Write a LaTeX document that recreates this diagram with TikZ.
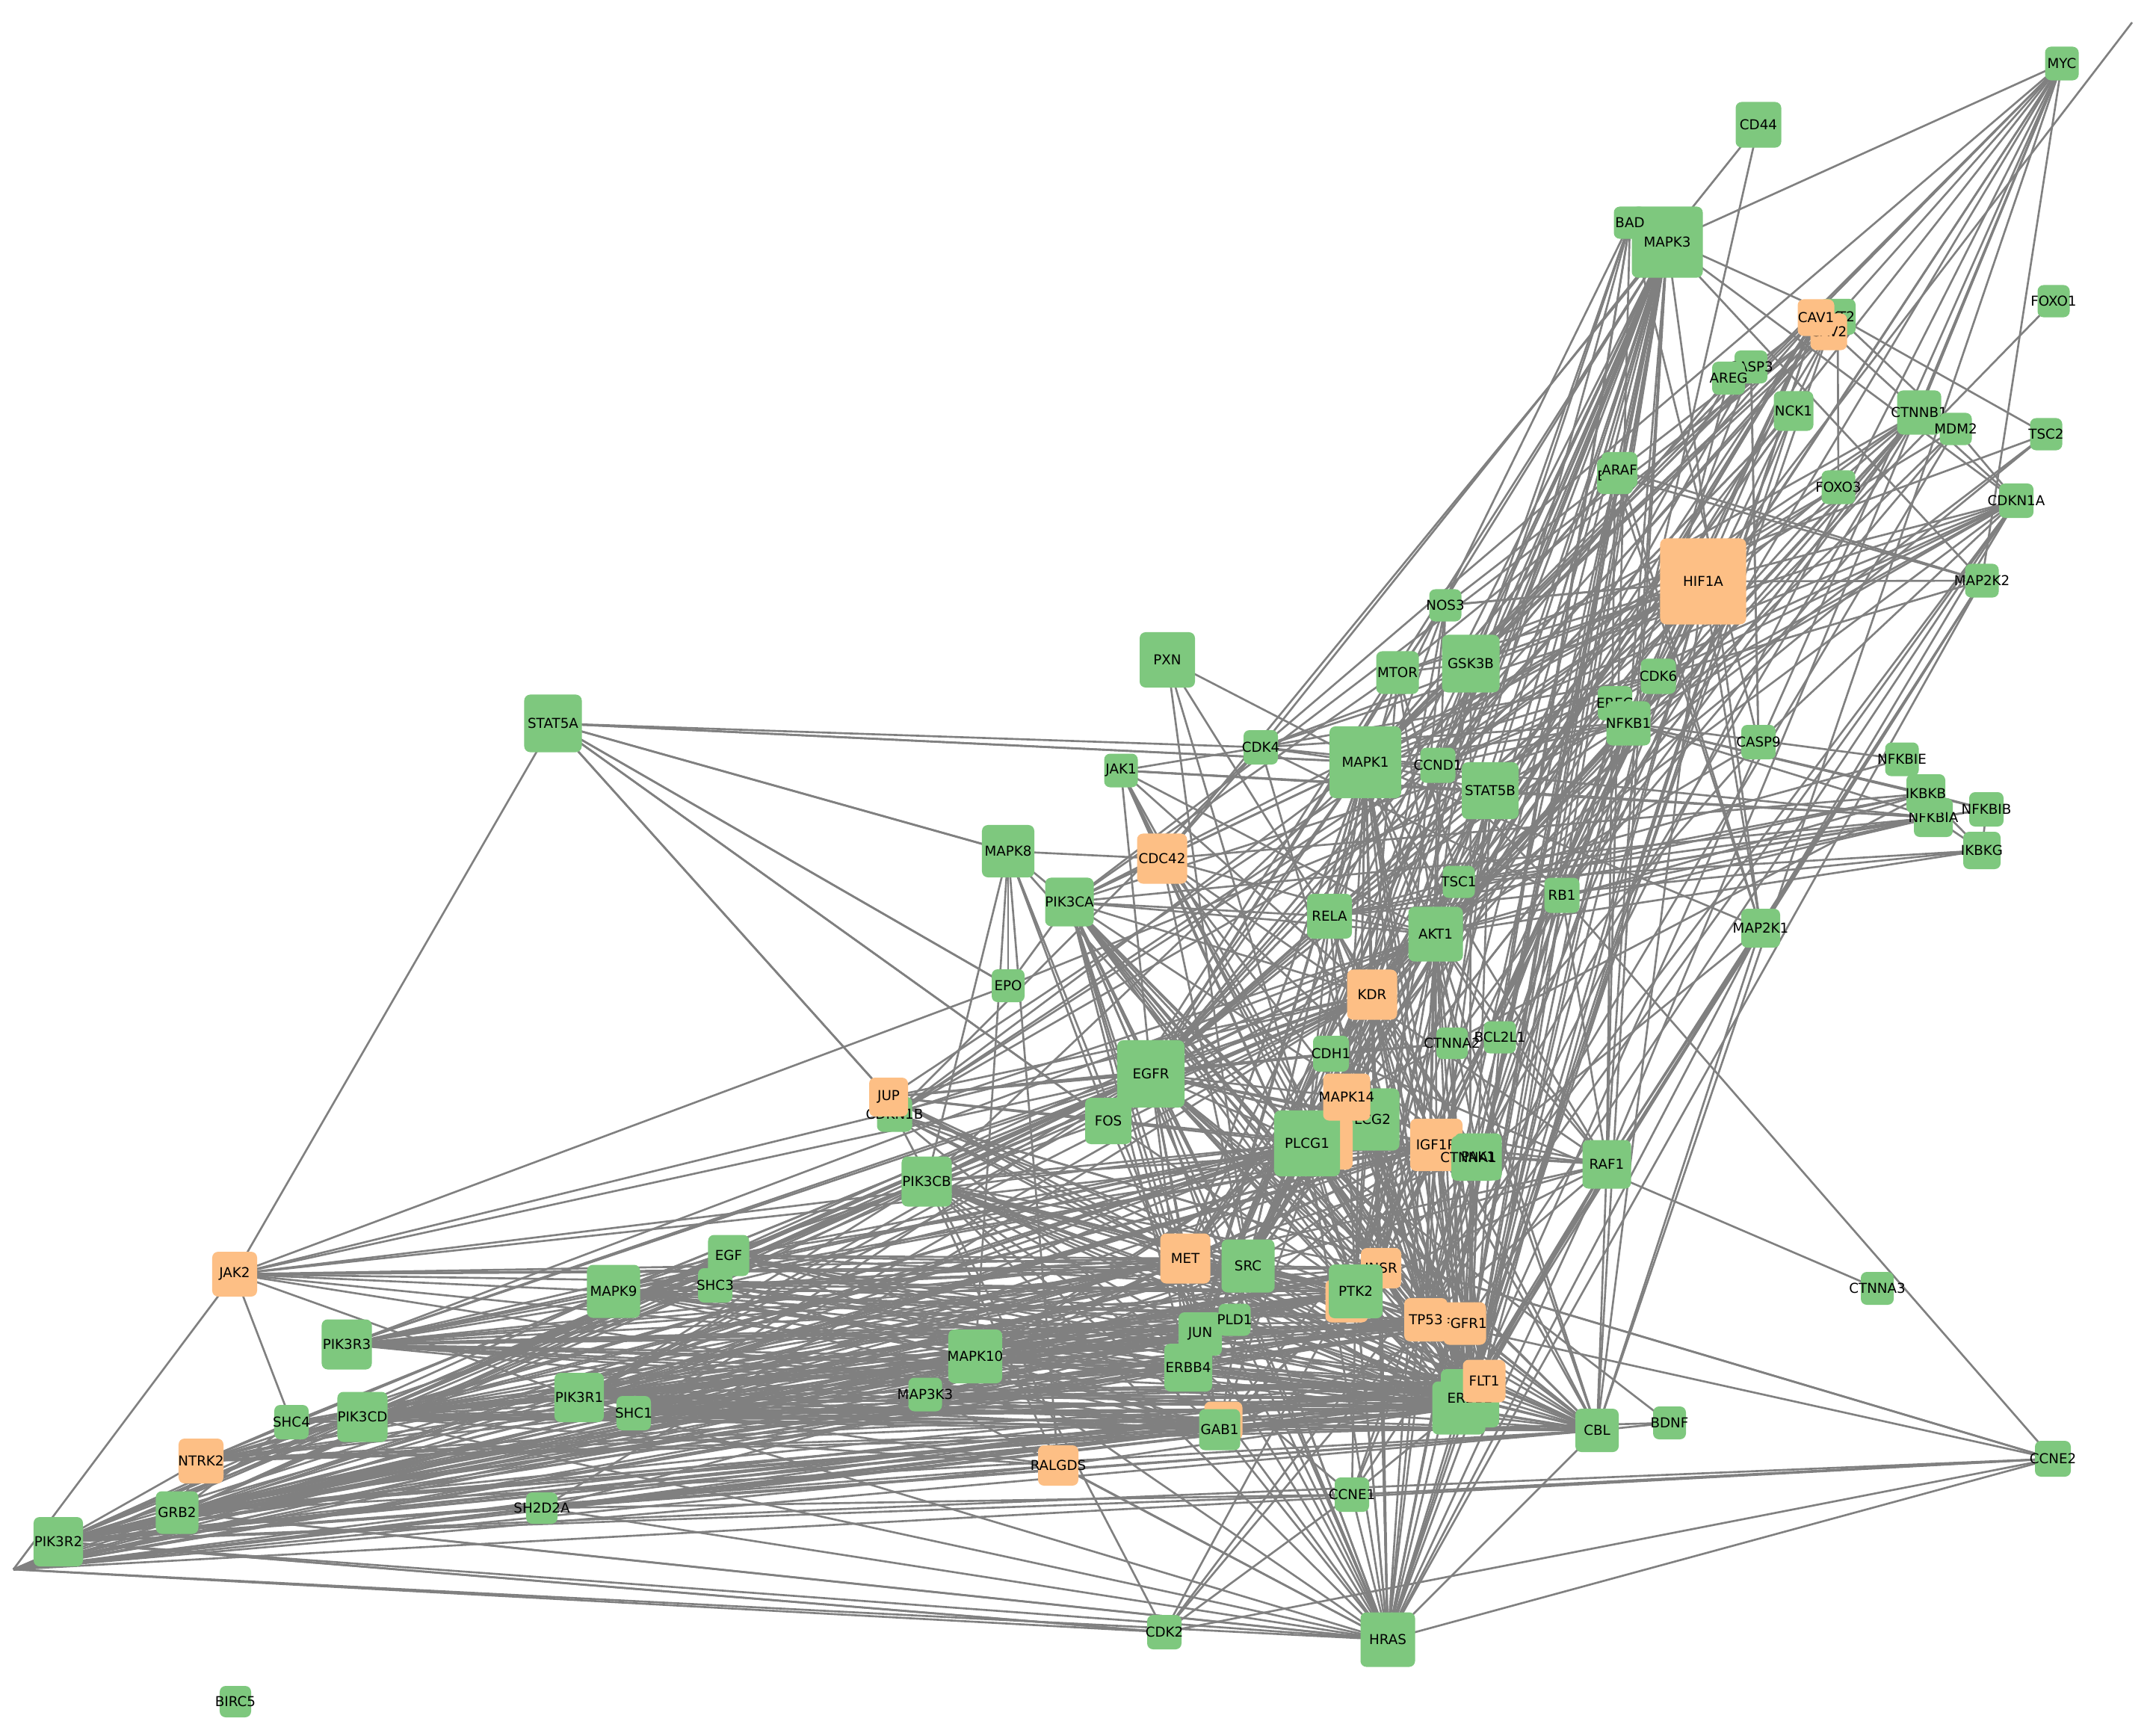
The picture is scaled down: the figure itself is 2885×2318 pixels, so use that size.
\documentclass[tikz,border=0pt]{standalone}
\usepackage{fontspec}
\setmainfont{DejaVu Sans}
\definecolor{gr}{RGB}{126,200,126}
\definecolor{orx}{RGB}{253,191,133}
\definecolor{edg}{RGB}{128,128,128}
\pgfdeclarelayer{bg}
\pgfsetlayers{bg,main}
\tikzset{
  nbox/.style={rectangle, rounded corners=0.08cm, inner sep=0pt, draw=none},
  lab/.style={inner sep=0pt, font=\fontsize{5.2}{6}\selectfont, text=black},
  lnk/.style={draw=edg, line width=0.75pt}
}
\newcommand\nd[6]{%
  \node[nbox,fill=#5,minimum size=#4*0.28453pt] (#1) at (#2,#3) {};
  \node[lab] (#1-t) at (#2,#3) {#6};}
\newcommand\Lk[2]{\foreach \b in {#2}{\draw[lnk] (#1.center) -- (\b.center);}}
\begin{document}
\begin{tikzpicture}[x=0.01cm,y=-0.01cm]
\useasboundingbox (0,0) rectangle (2885,2318);
\coordinate (offL) at (18,2100);
\coordinate (offTR) at (2853,30);
% nodes
\nd{MYC}{2759}{85}{45}{gr}{MYC}
\nd{CD44}{2353}{167}{61}{gr}{CD44}
\nd{MAPK3}{2231}{324}{95}{gr}{MAPK3}
\nd{BAD}{2181}{298}{43}{gr}{BAD}
\nd{AKT2}{2459}{424}{48}{gr}{AKT2}
\nd{CAV2}{2447}{444}{49}{orx}{CAV2}
\nd{CAV1}{2430}{425}{49}{orx}{CAV1}
\nd{CASP3}{2343}{491}{44}{gr}{CASP3}
\nd{AREG}{2313}{506}{44}{gr}{AREG}
\nd{NCK1}{2400}{550}{53}{gr}{NCK1}
\nd{CTNNB1}{2568}{552}{59}{gr}{CTNNB1}
\nd{MDM2}{2617}{574}{43}{gr}{MDM2}
\nd{FOXO1}{2748}{403}{43}{gr}{FOXO1}
\nd{TSC2}{2738}{581}{43}{gr}{TSC2}
\nd{BRAF}{2161}{637}{48}{gr}{BRAF}
\nd{ARAF}{2167}{629}{48}{gr}{ARAF}
\nd{FOXO3}{2460}{652}{45}{gr}{FOXO3}
\nd{CDKN1A}{2698}{670}{46}{gr}{CDKN1A}
\nd{HIF1A}{2279}{778}{115}{orx}{HIF1A}
\nd{MAP2K2}{2652}{777}{45}{gr}{MAP2K2}
\nd{CDK6}{2219}{905}{47}{gr}{CDK6}
\nd{CASP9}{2353}{993}{46}{gr}{CASP9}
\nd{NFKBIE}{2545}{1016}{45}{gr}{NFKBIE}
\nd{NFKBIA}{2587}{1094}{52}{gr}{NFKBIA}
\nd{IKBKB}{2577}{1062}{52}{gr}{IKBKB}
\nd{NFKBIB}{2658}{1083}{46}{gr}{NFKBIB}
\nd{IKBKG}{2652}{1138}{50}{gr}{IKBKG}
\nd{MAP2K1}{2356}{1242}{52}{gr}{MAP2K1}
\nd{NOS3}{1934}{810}{43}{gr}{NOS3}
\nd{GSK3B}{1968}{888}{77}{gr}{GSK3B}
\nd{MTOR}{1870}{900}{57}{gr}{MTOR}
\nd{EREG}{2161}{941}{46}{gr}{EREG}
\nd{NFKB1}{2179}{968}{59}{gr}{NFKB1}
\nd{MAPK1}{1827}{1020}{96}{gr}{MAPK1}
\nd{CCND1}{1924}{1024}{47}{gr}{CCND1}
\nd{STAT5B}{1994}{1058}{76}{gr}{STAT5B}
\nd{CDK4}{1687}{1000}{46}{gr}{CDK4}
\nd{TSC1}{1952}{1180}{43}{gr}{TSC1}
\nd{RB1}{2090}{1198}{47}{gr}{RB1}
\nd{RELA}{1779}{1226}{60}{gr}{RELA}
\nd{AKT1}{1921}{1250}{73}{gr}{AKT1}
\nd{JAK1}{1500}{1031}{45}{gr}{JAK1}
\nd{CDC42}{1555}{1149}{67}{orx}{CDC42}
\nd{PIK3CA}{1431}{1207}{65}{gr}{PIK3CA}
\nd{KDR}{1836}{1331}{67}{orx}{KDR}
\nd{CDH1}{1781}{1410}{48}{gr}{CDH1}
\nd{CTNNA2}{1943}{1396}{42}{gr}{CTNNA2}
\nd{BCL2L1}{2007}{1388}{43}{gr}{BCL2L1}
\nd{EGFR}{1540}{1437}{90}{gr}{EGFR}
\nd{PLCG2}{1831}{1498}{83}{gr}{PLCG2}
\nd{OR1}{1775}{1530}{70}{orx}{}
\nd{PLCG1}{1749}{1530}{88}{gr}{PLCG1}
\nd{MAPK14}{1802}{1468}{63}{orx}{MAPK14}
\nd{IGF1R}{1922}{1532}{70}{orx}{IGF1R}
\nd{CTNNA1}{1972}{1550}{60}{gr}{}
\nd{PAK1}{1978}{1548}{63}{gr}{PAK1}
\node[lab] (CTNNA1-l) at (1965,1549) {CTNNA1};
\nd{RAF1}{2150}{1558}{65}{gr}{RAF1}
\nd{SRC}{1670}{1694}{71}{gr}{SRC}
\nd{INSR}{1848}{1697}{54}{orx}{INSR}
\nd{OR2}{1802}{1741}{57}{orx}{}
\nd{PTK2}{1814}{1728}{72}{gr}{PTK2}
\nd{FGFR1}{1960}{1771}{57}{orx}{FGFR1}
\nd{TP53}{1908}{1766}{58}{orx}{TP53}
\nd{MET}{1586}{1684}{67}{orx}{MET}
\nd{JUN}{1606}{1785}{58}{gr}{JUN}
\nd{PLD1}{1652}{1766}{43}{gr}{PLD1}
\nd{ERBB4}{1590}{1830}{64}{gr}{ERBB4}
\nd{OR3}{1637}{1901}{51}{orx}{}
\nd{GAB1}{1632}{1913}{55}{gr}{GAB1}
\nd{KRAS}{1952}{1884}{71}{gr}{KRAS}
\nd{ERBB2}{1967}{1871}{78}{gr}{ERBB2}
\nd{FLT1}{1986}{1848}{57}{orx}{FLT1}
\nd{CBL}{2137}{1914}{58}{gr}{CBL}
\nd{BDNF}{2234}{1904}{44}{gr}{BDNF}
\nd{CCNE1}{1809}{2000}{46}{gr}{CCNE1}
\nd{CDK2}{1558}{2184}{46}{gr}{CDK2}
\nd{HRAS}{1857}{2194}{73}{gr}{HRAS}
\nd{RALGDS}{1416}{1961}{54}{orx}{RALGDS}
\nd{CDKN1B}{1197}{1491}{47}{gr}{CDKN1B}
\nd{JUP}{1189}{1468}{52}{orx}{JUP}
\nd{FOS}{1483}{1500}{62}{gr}{FOS}
\nd{PIK3CB}{1240}{1581}{67}{gr}{PIK3CB}
\nd{MAPK10}{1305}{1815}{72}{gr}{MAPK10}
\nd{MAP3K3}{1238}{1866}{45}{gr}{MAP3K3}
\nd{JAK2}{314}{1705}{60}{orx}{JAK2}
\nd{MAPK9}{821}{1728}{71}{gr}{MAPK9}
\nd{PIK3R3}{464}{1799}{67}{gr}{PIK3R3}
\nd{SHC4}{390}{1903}{46}{gr}{SHC4}
\nd{PIK3CD}{485}{1896}{67}{gr}{PIK3CD}
\nd{PIK3R1}{775}{1870}{66}{gr}{PIK3R1}
\nd{SHC1}{848}{1891}{46}{gr}{SHC1}
\nd{NTRK2}{269}{1955}{60}{orx}{NTRK2}
\nd{GRB2}{237}{2024}{57}{gr}{GRB2}
\nd{PIK3R2}{78}{2063}{66}{gr}{PIK3R2}
\nd{SH2D2A}{725}{2018}{42}{gr}{SH2D2A}
\nd{BIRC5}{315}{2277}{42}{gr}{BIRC5}
\nd{STAT5A}{740}{968}{77}{gr}{STAT5A}
\nd{PXN}{1562}{883}{74}{gr}{PXN}
\nd{MAPK8}{1349}{1139}{70}{gr}{MAPK8}
\nd{EPO}{1349}{1319}{44}{gr}{EPO}
\nd{EGF}{975}{1680}{55}{gr}{EGF}
\nd{SHC3}{957}{1720}{46}{gr}{SHC3}
\nd{CTNNA3}{2512}{1724}{44}{gr}{CTNNA3}
\nd{CCNE2}{2747}{1952}{48}{gr}{CCNE2}
% edges
\begin{pgfonlayer}{bg}
\fill[white] (0,0) rectangle (2885,2318);
\Lk{PIK3R2}{GRB2,NTRK2,EGFR,ERBB2,KRAS,ERBB4,MET,SRC,PTK2,IGF1R,INSR,PLCG1,GAB1,OR3,JUN,TP53,FGFR1,FLT1,CBL,RALGDS,CDK2,HRAS,KDR,PIK3CB,MAPK10,CCNE1,CCNE2,EGF,SHC3,MAPK9,PLD1,SHC1}
\Lk{offL}{JAK2,EGFR,ERBB2,KRAS,ERBB4,MET,SRC,PTK2,IGF1R,INSR,PLCG1,GAB1,JUN,TP53,FLT1,CBL,RALGDS,CDK2,HRAS,CCNE2,PIK3CB,MAPK10,SH2D2A,FGFR1}
\Lk{GRB2}{NTRK2,EGFR,ERBB2,KRAS,ERBB4,MET,SRC,PTK2,INSR,IGF1R,PLCG1,GAB1,OR3,SHC1,SHC3,SHC4,HRAS,CBL,FLT1,KDR,FGFR1,PIK3CB,PLD1,MAPK10,TP53}
\Lk{NTRK2}{SHC4,PIK3CD,SHC1,SHC3,BDNF,ERBB2,KRAS,PLCG1,PTK2,SRC,GAB1,MET,MAPK9,JUN,FLT1,IGF1R}
\Lk{PIK3CD}{EGFR,ERBB2,KRAS,ERBB4,MET,SRC,PTK2,INSR,IGF1R,PLCG1,GAB1,OR3,KDR,FLT1,FGFR1,HRAS,AKT1,JUN,TP53,CBL,PLD1,RALGDS,MAPK10,EGF}
\Lk{PIK3R3}{EGFR,ERBB2,KRAS,ERBB4,MET,SRC,PTK2,INSR,IGF1R,PLCG1,GAB1,KDR,FLT1,FGFR1,AKT1,JUN,TP53,MAPK9,PLD1,MAPK10,CBL,EGF,SHC3}
\Lk{PIK3R1}{EGFR,ERBB2,KRAS,ERBB4,MET,SRC,PTK2,INSR,IGF1R,PLCG1,GAB1,OR3,KDR,FLT1,FGFR1,HRAS,AKT1,JUN,TP53,CBL,PLD1,RALGDS,MAPK10,PIK3CB}
\Lk{SHC1}{EGFR,ERBB2,KRAS,ERBB4,MET,SRC,PTK2,INSR,IGF1R,PLCG1,GAB1,KDR,FLT1,FGFR1,JUN,CBL,MAP3K3,MAPK10}
\Lk{SHC4}{JAK2,PIK3CD,ERBB2,KRAS,EGFR,PTK2,MET}
\Lk{MAPK9}{JUN,EGFR,ERBB2,KRAS,MET,SRC,PTK2,PLCG1,GAB1,IGF1R,TP53,FOS,ERBB4,MAPK10,PLD1,FGFR1,FLT1}
\Lk{EGF}{EGFR,ERBB2,KRAS,ERBB4,PLCG1,SRC,PTK2,GAB1,MET,JUN,IGF1R}
\Lk{SHC3}{EGFR,ERBB2,KRAS,PTK2,SRC,MET,PLCG1,GAB1,FLT1,TP53}
\Lk{MAPK10}{JUN,ERBB2,KRAS,MET,SRC,PTK2,PLCG1,GAB1,TP53,IGF1R,INSR,FGFR1,FLT1,HRAS,ERBB4,PLD1,CBL}
\Lk{MAP3K3}{ERBB2,KRAS,PLCG1,SRC,PTK2,GAB1,MET,JUN,TP53,FLT1,HRAS}
\Lk{SH2D2A}{KDR,ERBB2,KRAS,PTK2,GAB1,FLT1,HRAS,CBL,CCNE1}
\Lk{PIK3CB}{AKT1,EGFR,ERBB2,KRAS,ERBB4,MET,SRC,PTK2,INSR,IGF1R,PLCG1,GAB1,KDR,FLT1,FGFR1,HRAS,JUN,TP53,CBL,RALGDS,PLD1}
\Lk{JAK2}{STAT5A,EPO,EGFR,PTK2,SRC,MET,IGF1R,INSR,PIK3R1,ERBB2,PLCG1,GAB1,MAPK9,KDR}
\Lk{JUP}{CDH1,CTNNA1,CTNNA2,CTNNB1,EGFR,STAT5A,PLCG1,MET,KDR,SRC,ERBB2,FOS}
\Lk{CDKN1B}{CDK2,CDK4,CDK6,CCND1,CCNE1,CCNE2,AKT1,FOXO3,PTK2,ERBB2,KRAS,MAPK1}
\Lk{FOS}{JUN,MAPK1,MAPK3,MAPK8,STAT5A,EGFR,KDR,PTK2}
\Lk{EGFR}{ERBB2,ERBB4,KRAS,SRC,PTK2,PLCG1,PLCG2,GAB1,CBL,MET,IGF1R,MAPK14,STAT5B,PAK1,CDH1,HRAS,PIK3CA,AREG,EREG,NCK1,JAK1,CAV1,AKT1,MAPK1,MAPK3,CTNNB1,RAF1,INSR,KDR,TP53,JUN,PLD1,FLT1}
\Lk{MET}{SRC,PTK2,GAB1,PLCG1,ERBB2,KRAS,HRAS,CBL,AKT1,MAPK1,STAT5B,PAK1,RAF1,IGF1R}
\Lk{SRC}{PTK2,ERBB2,KRAS,PXN,STAT5B,CAV1,INSR,IGF1R,KDR,FLT1,PLCG1,AKT1,RAF1,CBL,CTNNB1,CDH1,MAPK1,HRAS,TP53}
\Lk{PTK2}{PXN,ERBB2,KRAS,PLCG1,IGF1R,INSR,KDR,FLT1,AKT1,PAK1,RAF1,TP53,CDC42,MAPK1,MAPK3,HRAS,CBL,CCNE1}
\Lk{PLCG1}{ERBB2,KRAS,KDR,FLT1,IGF1R,INSR,FGFR1,RAF1,AKT1,CBL,HRAS,PLCG2,TP53,BDNF}
\Lk{MYC}{MAPK3,GSK3B,MAPK1,CCND1,STAT5B,NFKB1,RB1,TP53,ERBB2,CBL,MAP2K2,CTNNB1,CDK4,RAF1,CDK6}
\Lk{CD44}{CDK4,ERBB2}
\Lk{MAPK3}{ARAF,BRAF,MAP2K1,MAP2K2,RAF1,KRAS,ERBB2,PLCG1,IGF1R,JUN,STAT5B,RELA,AKT1,KDR,TP53,PTK2,INSR,HRAS,CDKN1A,BAD,NFKB1,CCND1,GSK3B,MAPK14,FLT1,CBL,SRC,CDC42,ERBB4,MET}
\Lk{BAD}{AKT1,BCL2L1,MAPK1,RAF1,PAK1,AKT2,CASP9,KDR,PLCG1}
\Lk{CAV1}{SRC,NOS3,KDR,INSR,MAPK1,ERBB2,IGF1R,AKT1,PTK2,CTNNB1,HRAS,MAPK14}
\Lk{CAV2}{INSR,EGFR,SRC,KRAS,MAPK1,CAV1}
\Lk{AKT2}{GSK3B,FOXO3,MDM2,TSC2,PIK3CA,PIK3CB,MTOR}
\Lk{AREG}{EGFR,ERBB4,ERBB2}
\Lk{CASP3}{CASP9,BCL2L1,MAPK1,AKT1}
\Lk{NCK1}{EGFR,PAK1,KDR,ERBB2,MET}
\Lk{CTNNB1}{CDKN1A,CDH1,CTNNA1,CTNNA2,GSK3B,CCND1,AKT1,MET,SRC}
\Lk{MDM2}{TP53,AKT1,CDKN1A,RB1,HIF1A}
\Lk{FOXO1}{AKT1}
\Lk{TSC2}{AKT1,TSC1,MTOR}
\Lk{FOXO3}{AKT1,MAPK1}
\Lk{ARAF}{MAP2K1,MAP2K2,HRAS,KRAS,MAPK1}
\Lk{BRAF}{MAP2K1,MAP2K2,HRAS,KRAS,RAF1,MAPK1}
\Lk{CDKN1A}{CDK4,CDK6,CCND1,CDK2,CCNE1,TP53,AKT1,HIF1A,MAPK1,STAT5B,NFKB1,CASP9,MAP2K1}
\Lk{MAP2K2}{MAPK1,RAF1,KRAS,HRAS,HIF1A,MAP2K1}
\Lk{HIF1A}{offTR,KDR,FLT1,AKT1,MAPK1,TP53,NOS3,MTOR,GSK3B,EGFR,IGF1R,NFKB1,RELA,CAV1,ERBB2,PIK3CA,STAT5B,CCND1,MAP2K1,RB1,CDK6}
\Lk{CDK6}{CCND1,RB1,CDK4}
\Lk{CASP9}{CASP3,AKT1,BCL2L1}
\Lk{NFKBIE}{IKBKB,RELA,NFKB1}
\Lk{IKBKB}{NFKBIA,NFKBIB,IKBKG,RELA,NFKB1,AKT1,TSC1,MAPK14,CDC42}
\Lk{NFKBIA}{RELA,NFKB1,IKBKG,NFKBIB,NFKBIE,AKT1,MAPK1,PIK3CA,TSC1,JAK1,RB1,STAT5B}
\Lk{NFKBIB}{IKBKG,RELA,NFKB1}
\Lk{IKBKG}{RELA,AKT1,TSC1}
\Lk{MAP2K1}{MAPK1,RAF1,HRAS,KRAS,PAK1,CBL,ERBB2}
\Lk{NOS3}{AKT1,HIF1A,KDR,INSR,MTOR,RELA}
\Lk{GSK3B}{AKT1,CCND1,MAPK1,MTOR,JUN,PTK2,ERBB2}
\Lk{MTOR}{AKT1,TSC1,RELA,PIK3CA,KDR,EGFR}
\Lk{EREG}{EGFR,ERBB2,ERBB4}
\Lk{NFKB1}{RELA,AKT1,MAPK1,CCND1,TP53,PIK3CA,KDR,ERBB2,IGF1R}
\Lk{MAPK1}{ERBB2,KRAS,PLCG1,SRC,PTK2,MET,KDR,IGF1R,JUN,STAT5B,RAF1,HRAS,PXN,CDK4,CDC42,RELA,AKT1,TP53,CCND1,STAT5A,INSR,MAPK14,CBL,ERBB4}
\Lk{CCND1}{CDK4,RB1,JUN,STAT5B,TP53}
\Lk{STAT5B}{ERBB4,INSR,KDR,IGF1R,JAK1,ERBB2,PTK2,TP53}
\Lk{CDK4}{RB1,STAT5A,NFKB1,JAK1,CDC42,TP53,HIF1A}
\Lk{TSC1}{AKT1,MTOR}
\Lk{RB1}{CDK2,CCNE1,CCNE2,RAF1,TP53,ERBB2}
\Lk{RELA}{AKT1,TP53,MAPK14,KDR,PIK3CA,EGFR,ERBB2,IGF1R,PLCG1}
\Lk{AKT1}{PIK3CA,ERBB2,KRAS,HRAS,SRC,PTK2,IGF1R,INSR,KDR,TP53,BCL2L1,RAF1,PAK1,PLCG1,FLT1,CBL,CDH1,JAK1,CDC42}
\Lk{JAK1}{STAT5B,CDC42,KDR,PLCG1,PTK2,ERBB2}
\Lk{CDC42}{PAK1,PIK3CA,MAPK8,MAPK14,SRC,RAF1,ERBB2,KRAS}
\Lk{PIK3CA}{PTK2,ERBB2,KRAS,HRAS,MET,IGF1R,INSR,KDR,PLCG1,SRC,GAB1,ERBB4,FLT1,FGFR1,TP53,MAPK1,CBL,JUN}
\Lk{PXN}{PAK1}
\Lk{MAPK8}{JUN,STAT5A,TP53,EPO,PIK3CB,PIK3CA,MAPK10,RALGDS}
\Lk{EPO}{STAT5A,PIK3CA,STAT5B}
\Lk{KDR}{FLT1,ERBB2,KRAS,HRAS,PAK1,CDH1,MAPK14,GAB1,CBL,TP53,IGF1R}
\Lk{CDH1}{CTNNA1,CTNNA2,CTNNA3,MET,ERBB2,KRAS}
\Lk{CTNNA2}{ERBB2,KRAS}
\Lk{BCL2L1}{TP53,RAF1,ERBB2}
\Lk{IGF1R}{INSR,ERBB2,KRAS,TP53,FGFR1,FLT1,CBL,HRAS,RAF1,GAB1,JUN}
\Lk{INSR}{ERBB2,KRAS,TP53,GAB1,HRAS,CBL}
\Lk{PAK1}{RAF1,ERBB2,KRAS}
\Lk{RAF1}{HRAS,KRAS,ERBB2,CBL,TP53,FLT1}
\Lk{ERBB4}{ERBB2,KRAS,GAB1,PLCG1,CBL,JUN,FGFR1,HRAS}
\Lk{JUN}{ERBB2,KRAS,TP53,HRAS,FGFR1,CBL}
\Lk{TP53}{ERBB2,KRAS,HRAS,CBL,FLT1,CCNE1,CCNE2,CDK2}
\Lk{FGFR1}{ERBB2,KRAS,CBL,HRAS,GAB1}
\Lk{ERBB2}{CBL,HRAS,GAB1,FLT1,CCNE1}
\Lk{KRAS}{CBL,HRAS,RALGDS,FLT1}
\Lk{FLT1}{CBL,HRAS}
\Lk{CBL}{BDNF,HIF1A,HRAS}
\Lk{CCNE1}{CDK2,CCNE2,HRAS}
\Lk{CDK2}{CCNE2,PIK3R2}
\Lk{HRAS}{RALGDS,CCNE2,PIK3CA,GRB2,PTK2,SRC,MAPK1}
\Lk{CCNE2}{CDKN1B}
\Lk{STAT5A}{MAPK1,MAPK8,EPO,FOS,JUP}
\Lk{GAB1}{KRAS,MET,PTK2,SRC,CBL,HRAS}
\Lk{PLD1}{ERBB2,KRAS,HRAS,PTK2,CBL,SRC}
\Lk{MAPK14}{ERBB2,KRAS,TP53,PTK2,FLT1}
\Lk{PLCG2}{ERBB2,KRAS,PTK2,FLT1}
\Lk{CTNNA1}{ERBB2,KRAS}
\end{pgfonlayer}
\end{tikzpicture}
\end{document}
